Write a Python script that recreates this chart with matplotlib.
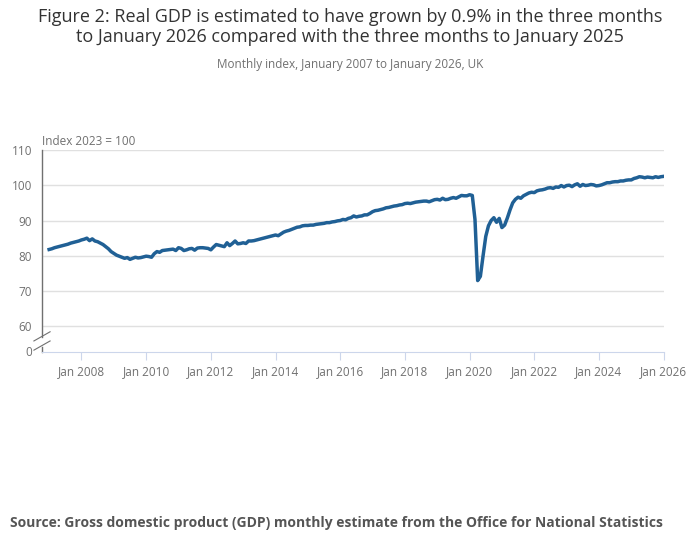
import numpy as np
import matplotlib.pyplot as plt

plt.rcParams['font.family'] = ['Open Sans', 'DejaVu Sans']

# ── Monthly GDP index (2023 = 100), Jan 2007 .. Jan 2026 ──────
gdp_2007_2013 = [
    81.8, 82.0, 82.3, 82.5, 82.7, 82.9, 83.1, 83.3, 83.6, 83.8, 84.0, 84.2,
    84.5, 84.7, 85.0, 84.3, 84.8, 84.2, 84.0, 83.6, 83.2, 82.6, 82.0, 81.2,
    80.7, 80.2, 79.9, 79.6, 79.3, 79.5, 79.0, 79.3, 79.6, 79.4, 79.5, 79.7,
    79.9, 79.8, 79.6, 80.6, 81.2, 81.0, 81.5, 81.6, 81.7, 81.8, 81.9, 81.5,
    82.3, 82.1, 81.5, 81.7, 82.0, 82.1, 81.6, 82.2, 82.3, 82.3, 82.2, 82.1,
    81.7, 82.5, 83.2, 83.0, 82.8, 82.6, 83.7, 82.9, 83.5, 84.2, 83.4, 83.5,
    83.7, 83.5, 84.2, 84.2, 84.3, 84.5, 84.7, 84.9, 85.1, 85.3, 85.5, 85.7,
]
gdp_2014_2019 = [
    85.9, 85.7, 86.2, 86.7, 87.0, 87.2, 87.5, 87.8, 88.1, 88.2, 88.5, 88.6,
    88.6, 88.7, 88.7, 88.9, 89.0, 89.1, 89.2, 89.4, 89.4, 89.6, 89.7, 89.9,
    90.0, 90.3, 90.2, 90.6, 90.8, 91.3, 91.0, 91.2, 91.3, 91.6, 91.6, 92.0,
    92.5, 92.8, 92.9, 93.1, 93.3, 93.6, 93.7, 93.9, 94.1, 94.2, 94.4, 94.5,
    94.8, 94.9, 94.8, 95.0, 95.2, 95.3, 95.4, 95.5, 95.5, 95.3, 95.6, 95.9,
    96.0, 95.8, 96.3, 95.9, 96.0, 96.3, 96.5, 96.3, 96.7, 97.1, 97.0, 97.0,
]
gdp_2020_2026 = [
    97.3, 97.1, 90.3, 73.0, 74.2, 80.0, 85.5, 88.5, 90.0, 90.8, 89.5, 90.6,
    88.0, 88.7, 90.7, 93.0, 95.0, 96.0, 96.6, 96.3, 97.0, 97.4, 97.8, 98.0,
    97.9, 98.4, 98.6, 98.7, 98.9, 99.2, 99.3, 99.1, 99.5, 99.4, 99.9, 99.5,
    99.9, 100.0, 99.6, 100.1, 100.4, 99.7, 100.2, 99.9, 100.0, 100.2, 100.1, 99.8,
    99.9, 100.1, 100.4, 100.7, 100.7, 100.9, 101.0, 101.0, 101.2, 101.2, 101.4, 101.5,
    101.5, 101.9, 102.1, 102.4, 102.3, 102.1, 102.3, 102.2, 102.1, 102.4, 102.2, 102.4,
    102.5,
]
gdp = gdp_2007_2013 + gdp_2014_2019 + gdp_2020_2026

x_tick_years = [2008, 2010, 2012, 2014, 2016, 2018, 2020, 2022, 2024, 2026]
y_ticks = [60, 70, 80, 90, 100, 110]
ZERO_POS = 53   # where the "0" label sits below the axis break

months = 2007 + np.arange(len(gdp)) / 12.0
X0 = 2006.78

fig = plt.figure(figsize=(7, 5.49), dpi=100)
ax = fig.add_axes([0.06, 0.359, 0.889, 0.368])

ax.plot(months, gdp, color='#206095', linewidth=2.5, solid_joinstyle='round')

ax.set_xlim(X0, 2026.02)
ax.set_ylim(ZERO_POS - 0.2, 110)
ax.set_yticks([ZERO_POS] + y_ticks)
ax.set_yticklabels(['0'] + [str(v) for v in y_ticks])
for v in y_ticks:
    ax.axhline(v, color='#e0e0e0', linewidth=1, zorder=0)

ax.set_xticks(x_tick_years)
ax.set_xticklabels([f'Jan {y}' for y in x_tick_years])
ax.tick_params(axis='x', length=6, color='#ccd6eb', labelsize=8.5, labelcolor='#707070')
ax.tick_params(axis='y', length=0, labelsize=8.5, labelcolor='#707070', pad=7)

for s in ['top', 'right', 'left']:
    ax.spines[s].set_visible(False)
ax.spines['bottom'].set_color('#ccd6eb')
ax.plot([X0] * 2, [57.0, 110], color='#707070', lw=1, clip_on=False)
ax.plot([X0] * 2, [ZERO_POS - 0.2, 54.2], color='#707070', lw=1, clip_on=False)
# axis break marks
for yb in (57.2, 54.6):
    ax.plot([X0 - 0.25, X0 + 0.25], [yb - 1.3, yb + 1.3], color='#707070',
            lw=0.8, clip_on=False)

ax.text(0.0, 1.01, 'Index 2023 = 100', transform=ax.transAxes, fontsize=8.5,
        color='#707070', ha='left', va='bottom')

fig.text(0.5, 0.985, 'Figure 2: Real GDP is estimated to have grown by 0.9% in the three months\n'
         'to January 2026 compared with the three months to January 2025',
         ha='center', va='top', fontsize=13, color='#333333', linespacing=1.1)
fig.text(0.5, 0.895, 'Monthly index, January 2007 to January 2026, UK',
         ha='center', va='top', fontsize=8.5, color='#707070')
fig.text(0.014, 0.048, 'Source: Gross domestic product (GDP) monthly estimate from the Office for National Statistics',
         ha='left', va='center', fontsize=10, color='#555555', fontweight='bold')

fig.savefig('out.png', dpi=100)
